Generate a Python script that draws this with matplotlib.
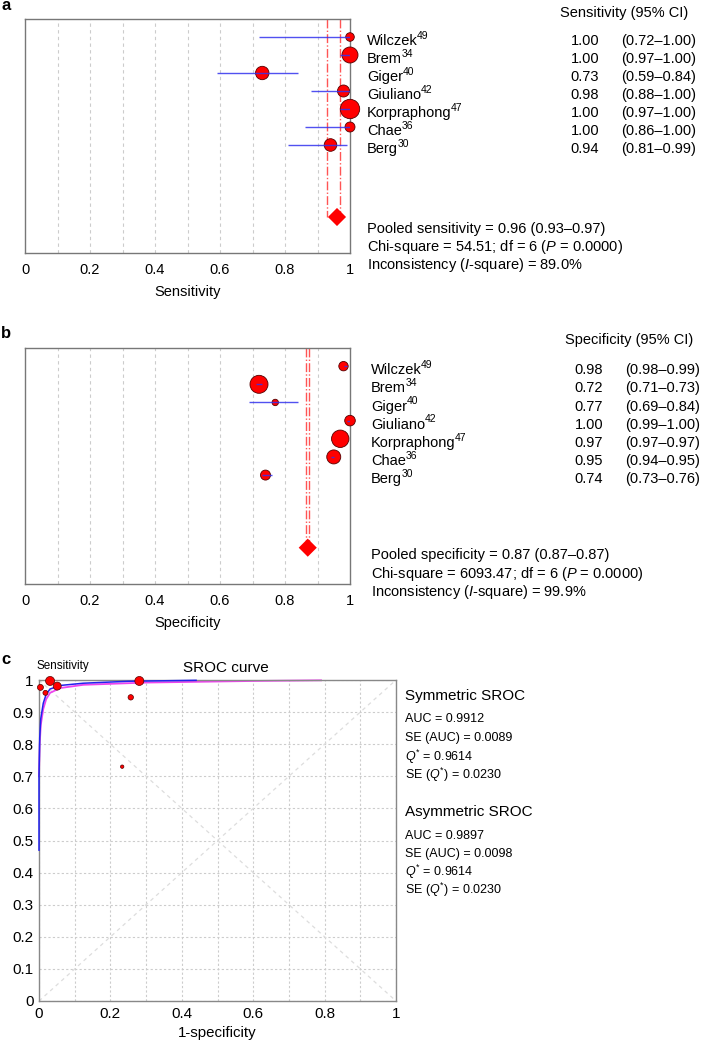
import matplotlib
matplotlib.use("Agg")
import matplotlib.pyplot as plt
from matplotlib.transforms import blended_transform_factory, offset_copy

plt.rcParams['font.family'] = ['Liberation Sans', 'DejaVu Sans']
plt.rcParams['mathtext.fontset'] = 'custom'
plt.rcParams['mathtext.rm'] = 'Liberation Sans'
plt.rcParams['mathtext.it'] = 'Liberation Sans:italic'

# studies
studies = ["Wilczek", "Brem", "Giger", "Giuliano", "Korpraphong", "Chae", "Berg"]
refs = ["49", "34", "40", "42", "47", "36", "30"]

# panel a: sensitivity
sens = [1.00, 1.00, 0.73, 0.98, 1.00, 1.00, 0.94]
sens_lo = [0.72, 0.97, 0.59, 0.88, 0.97, 0.86, 0.81]
sens_hi = [1.00, 1.00, 0.84, 1.00, 1.00, 1.00, 0.99]
sens_w = [4.3, 8.0, 6.7, 6.0, 9.7, 5.0, 6.3]   # marker radius (weight)
pooled_sens = 0.96
pooled_sens_ci = [0.93, 0.97]

# panel b: specificity
spec = [0.98, 0.72, 0.77, 1.00, 0.97, 0.95, 0.74]
spec_lo = [0.98, 0.71, 0.69, 0.99, 0.97, 0.94, 0.73]
spec_hi = [0.99, 0.73, 0.84, 1.00, 0.97, 0.95, 0.76]
spec_w = [4.7, 9.0, 3.2, 5.3, 8.7, 7.0, 5.0]
pooled_spec = 0.87
pooled_spec_ci = [0.865, 0.875]

# panel c: SROC
roc_x = [0.004, 0.018, 0.031, 0.051, 0.281, 0.257, 0.233]
roc_y = [0.977, 0.960, 0.997, 0.981, 0.997, 0.946, 0.730]
roc_w = [3.0, 2.5, 4.5, 4.0, 4.5, 2.7, 1.7]
sym_fpr = [0, 0, 0.002, 0.005, 0.012, 0.02, 0.031, 0.06, 0.124, 0.25, 0.44]
sym_sens = [0.47, 0.70, 0.82, 0.88, 0.928, 0.955, 0.972, 0.983, 0.99, 0.996, 0.999]
asym_fpr = [0, 0.002, 0.005, 0.012, 0.02, 0.031, 0.06, 0.124, 0.3, 0.6, 0.79]
asym_sens = [0.70, 0.80, 0.86, 0.91, 0.94, 0.96, 0.975, 0.985, 0.992, 0.997, 0.999]

W, H = 702, 1044
fig = plt.figure(figsize=(W / 100, H / 100), dpi=100)
renderer = fig.canvas.get_renderer()


def fx(x):
    return x / W


def fy(y):
    return 1 - y / H


def r2s(r):
    # radius in px -> scatter size in pt^2
    return (2 * r * 0.72) ** 2


ticks = [0, 0.2, 0.4, 0.6, 0.8, 1]
ticklab = ["0", "0.2", "0.4", "0.6", "0.8", "1"]


def forest(ax, est, lo, hi, w, pooled, pci, xlabel):
    rows = list(range(1, 8))
    ax.set_xlim(0, 1)
    ax.set_ylim(13, 0)
    for g in [0.1 * k for k in range(1, 10)]:
        ax.axvline(g, color='#cccccc', lw=0.8, ls=(0, (3, 3)), zorder=0)
    for c in pci:
        ax.plot([c, c], [0, 11], color='#ff5555', lw=1.0, ls='-.', zorder=1)
    ax.scatter(est, rows, s=[r2s(r) for r in w], color='red', edgecolor='#550000',
               linewidth=0.6, zorder=3, clip_on=False)
    ax.hlines(rows, lo, hi, color='#3333ee', lw=1.0, alpha=0.85, zorder=4)
    ax.scatter([pooled], [11], marker='D', s=85, color='red', edgecolor='none', zorder=3)
    ax.set_xticks(ticks)
    ax.set_xticklabels(ticklab, fontsize=10.5)
    ax.tick_params(axis='x', length=0, pad=7)
    ax.set_yticks([])
    ax.set_xlabel(xlabel, fontsize=10.5, labelpad=6)
    for s in ax.spines.values():
        s.set_color('#777777')
        s.set_linewidth(1.0)


def side_text(ax, est, lo, hi, xname, xval, xci, header, hx, hy, pooled_lines, py):
    tr = blended_transform_factory(fig.transFigure, ax.transData)
    for i in range(7):
        r = i + 1.45
        t = ax.text(fx(xname), r, studies[i], transform=tr,
                    fontsize=10.5, va='baseline', ha='left')
        wpx = t.get_window_extent(renderer).width
        ax.text(fx(xname), r, refs[i],
                transform=offset_copy(tr, fig=fig, x=wpx * 72 / 100 - 0.5, y=4.6,
                                      units='points'),
                fontsize=7.5, va='baseline', ha='left')
        ax.text(fx(xval), r, "%.2f" % est[i], transform=tr, fontsize=10.5,
                va='baseline', ha='right')
        ax.text(fx(xci), r, "(%.2f\u2013%.2f)" % (lo[i], hi[i]), transform=tr,
                fontsize=10.5, va='baseline', ha='left')
    fig.text(fx(hx), fy(hy), header, fontsize=10.5, ha='right', va='center')
    for k, line in enumerate(pooled_lines):
        fig.text(fx(xname), fy(py[k]), line, fontsize=10.5, ha='left', va='center')


# panel a
axa = fig.add_axes([fx(25), fy(253), (350 - 25) / W, (253 - 19) / H])
forest(axa, sens, sens_lo, sens_hi, sens_w, pooled_sens, pooled_sens_ci, "Sensitivity")
side_text(axa, sens, sens_lo, sens_hi, 367, 599, 621, "Sensitivity (95% CI)", 688, 13,
          ["Pooled sensitivity = 0.96 (0.93\u20130.97)",
           "Chi-square = 54.51; df = 6 ($\\mathit{P}$ = 0.0000)",
           "Inconsistency ($\\mathit{I}$-square) = 89.0%"],
          [229, 247, 265])
fig.text(fx(1), fy(6), "a", fontsize=12, fontweight='bold', ha='left', va='center')

# panel b
axb = fig.add_axes([fx(25), fy(584), (350 - 25) / W, (584 - 348) / H])
forest(axb, spec, spec_lo, spec_hi, spec_w, pooled_spec, pooled_spec_ci, "Specificity")
side_text(axb, spec, spec_lo, spec_hi, 371, 603, 625, "Specificity (95% CI)", 693, 340,
          ["Pooled specificity = 0.87 (0.87\u20130.87)",
           "Chi-square = 6093.47; df = 6 ($\\mathit{P}$ = 0.0000)",
           "Inconsistency ($\\mathit{I}$-square) = 99.9%"],
          [555, 574, 592])
fig.text(fx(1), fy(333), "b", fontsize=12, fontweight='bold', ha='left', va='center')

# panel c
axc = fig.add_axes([fx(39), fy(1001), (396 - 39) / W, (1001 - 680) / H])
axc.set_xlim(0, 1)
axc.set_ylim(0, 1)
axc.set_xticks([0.1 * k for k in range(11)])
axc.set_yticks([0.1 * k for k in range(11)])
axc.grid(True, color='#cccccc', lw=0.8, ls=(0, (2, 2)))
axc.set_axisbelow(True)
axc.plot([0, 1], [0, 1], color='#dddddd', lw=0.9, ls=(0, (3, 3)), zorder=1)
axc.plot([0, 1], [1, 0], color='#dddddd', lw=0.9, ls=(0, (3, 3)), zorder=1)
axc.plot(asym_fpr, asym_sens, color='#ee44ee', lw=1.3, zorder=2, clip_on=False)
axc.plot(sym_fpr, sym_sens, color='#2222ee', lw=1.1, zorder=3, clip_on=False)
axc.scatter(roc_x, roc_y, s=[r2s(r) for r in roc_w], color='red', edgecolor='#550000',
            linewidth=0.5, zorder=4, clip_on=False)
axc.set_xticklabels(["0", "", "0.2", "", "0.4", "", "0.6", "", "0.8", "", "1"], fontsize=11)
axc.set_yticklabels(["0", "0.1", "0.2", "0.3", "0.4", "0.5", "0.6", "0.7", "0.8", "0.9", "1"],
                    fontsize=11)
axc.tick_params(length=0, pad=4)
axc.set_xlabel("1-specificity", fontsize=10.8, labelpad=4)
for s in axc.spines.values():
    s.set_color('#888888')
    s.set_linewidth(1.0)
fig.text(fx(63), fy(666), "Sensitivity", fontsize=8.4, ha='center', va='center')
fig.text(fx(226), fy(668), "SROC curve", fontsize=11, ha='center', va='center')
fig.text(fx(1), fy(660), "c", fontsize=12, fontweight='bold', ha='left', va='center')

fig.text(fx(405), fy(696), "Symmetric SROC", fontsize=11, ha='left', va='center')
sym_lines = ["AUC = 0.9912", "SE (AUC) = 0.0089", "$\\mathit{Q}^{*}$ = 0.9614",
             "SE ($\\mathit{Q}^{*}$) = 0.0230"]
for k, line in enumerate(sym_lines):
    fig.text(fx(405), fy(719 + 18.7 * k), line, fontsize=9, ha='left', va='center')
fig.text(fx(405), fy(812), "Asymmetric SROC", fontsize=11, ha='left', va='center')
asym_lines = ["AUC = 0.9897", "SE (AUC) = 0.0098", "$\\mathit{Q}^{*}$ = 0.9614",
              "SE ($\\mathit{Q}^{*}$) = 0.0230"]
for k, line in enumerate(asym_lines):
    fig.text(fx(405), fy(836 + 18 * k), line, fontsize=9, ha='left', va='center')

fig.savefig("out.png", dpi=100)
